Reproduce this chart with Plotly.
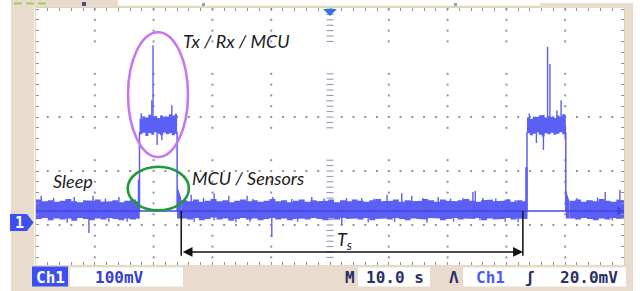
import plotly.graph_objects as go

# ---------------- values (time in s, voltage in mV) ----------------
baseline_mv = 26            # centre of the sleep-current trace

sleep_span = (-50.0, -32.4)
idle_span = (-25.3, 33.5)
tail_span = (40.7, 50.0)
band_step_s = 1.0
sleep_upper = [47, 44, 46, 43, 45, 48, 44, 42, 46, 45, 47, 43, 44, 46, 42, 45, 47, 44]
sleep_lower = [11, 13, 9, 12, 10, 12, 8, 13, 11, 9, 12, 10, 13, 11, 9, 12, 10, 12]
idle_upper = [46, 44, 47, 43, 45, 48, 44, 46, 42, 45,
              47, 44, 46, 43, 45, 48, 44, 46, 42, 45,
              47, 43, 46, 44, 45, 47, 42, 46, 44, 47,
              45, 43, 46, 48, 44, 45, 47, 43, 46, 44,
              45, 48, 46, 43, 47, 45, 44, 46, 48, 45,
              43, 46, 47, 44, 45, 47, 43, 46, 44]
idle_lower = [12, 10, 13, 9, 11, 14, 10, 12, 8, 11,
              13, 10, 12, 9, 11, 13, 10, 12, 9, 11,
              12, 10, 13, 11, 9, 12, 10, 13, 11, 12,
              10, 13, 9, 11, 12, 10, 13, 11, 9, 12,
              11, 10, 13, 12, 9, 11, 13, 10, 12, 11,
              13, 9, 12, 10, 11, 13, 10, 12, 11]
tail_upper = [45, 47, 43, 46, 44, 48, 45, 43, 47, 46]
tail_lower = [12, 10, 13, 11, 9, 12, 10, 13, 11, 12]

burst1_span = (-32.4, -26.0)
burst2_span = (33.5, 40.1)
burst_step_s = 0.5
burst_center_mv = 185
burst1_upper = [197, 201, 199, 204, 200, 202, 198, 203, 200, 201, 205, 203, 206]
burst1_lower = [168, 171, 165, 170, 167, 172, 169, 166, 171, 168, 170, 166, 169]
burst2_upper = [199, 197, 201, 200, 203, 204, 199, 202, 200, 198, 203, 201, 205, 203]
burst2_lower = [170, 166, 169, 172, 167, 164, 170, 168, 171, 167, 169, 172, 168, 170]

spike_up_t = [-49.1, -47.0, -43.5, -40.3, -38.2, -35.9, -33.7, -23.6, -21.5, -19.7, -17.2, -14.1,
              -13.1, -9.7, -6.5, -3.1, -1.0, 2.8, 5.4, 7.5, 9.7, 12.2, 13.9, 15.8, 18.4, 20.5,
              22.6, 24.3, 24.7, 26.0, 28.2, 30.3, 31.5, 42.0, 43.7, 45.5, 46.8, 49.3]
spike_up_v = [54, 50, 52, 54, 49, 52, 50, 56, 50, 59, 54, 54,
              48, 52, 48, 52, 49, 50, 50, 49, 56, 59, 54, 50, 52, 49,
              50, 61, 63, 50, 49, 48, 46, 50, 46, 51, 61, 65]
spike_dn_t = [-47.8, -44.7, -41.0, -37.6, -34.5, -23.1, -19.7, -16.0, -13.6, -9.9, -5.5, 2.0,
              6.5, 11.0, 16.5, 21.0, 25.5, 29.8, 32.0, 44.2, 48.0]
spike_dn_v = [9, 4, -15, 6, 6, 6, 9, 5, 6, -22, 6, 0,
              5, 6, 4, 6, 9, 6, 5, 11, 9]

burst_spike_t = [-32.1, -30.3, -30.1, -26.9, -29.4, -28.6,
                 33.9, 37.0, 37.4, 38.6, 39.3, 35.1, 36.3, 40.0]
burst_spike_v = [207, 231, 333, 222, 148, 157,
                 207, 330, 298, 212, 231, 152, 139, 159]

# MCU / sensor shoulders around each burst: start, end, level at start, level at end
shoulder_t0 = [-32.7, -26.0, 33.2, 40.1]
shoulder_t1 = [-32.4, -25.3, 33.6, 40.7]
shoulder_v0 = [84, 72, 107, 65]
shoulder_v1 = [84, 50, 107, 45]
edge_t = [-32.4, -26.0, 33.5, 40.1]
edge_top = [172, 172, 172, 172]

ts_start, ts_end = -25.3, 32.8
ts_level = -50
marker_low = -57

# ---------------- styling ----------------
TRACE = '#5b5ff3'
TRACE_DARK = '#4245e4'
GRID = '#8e8eb4'
BEIGE = '#eadccd'
Y_TOP, Y_BOT = 401.9, -74.1   # screen spans 100 mV per 54 px


def PX(x):
    return (x - 36) / 588.0


def PY(y):
    return (265 - y) / 257.0


def band_polygon(span, step, upper, lower):
    n = len(upper)
    edges = [span[0] + i * step for i in range(n)] + [span[1]]
    xs, ys = [], []
    for i in range(n):
        xs += [edges[i], edges[i + 1]]
        ys += [upper[i], upper[i]]
    for i in reversed(range(n)):
        xs += [edges[i + 1], edges[i]]
        ys += [lower[i], lower[i]]
    xs.append(xs[0]); ys.append(ys[0])
    return xs, ys


fig = go.Figure()

# graticule dots
col_t = [-40, -30, -20, -10, 10, 20, 30, 40]
dot_mv = [v for v in range(-60, 401, 20) if v not in (140, 160, 300, 320)]
gx, gy = [], []
for t in col_t:
    for v in dot_mv:
        gx.append(t); gy.append(v)
for v in (0, 100, 200):
    for k in range(-24, 25):
        t = 2 * k
        if t % 10 != 0:
            gx.append(t); gy.append(v)
fig.add_trace(go.Scatter(x=gx, y=gy, mode='markers', hoverinfo='skip',
                         marker=dict(symbol='square', size=2, color=GRID)))
# centre axis
cy = [v for v in dot_mv] + [v + 10 for v in dot_mv if v + 10 < 395 and v + 10 not in (130, 170, 290, 310, 330)]
fig.add_trace(go.Scatter(x=[0] * len(cy), y=cy, mode='markers', hoverinfo='skip',
                         marker=dict(symbol='line-ew', size=5, line=dict(width=1, color=GRID))))

# baseline noise bands
for span, up, lo in [(sleep_span, sleep_upper, sleep_lower),
                     (idle_span, idle_upper, idle_lower),
                     (tail_span, tail_upper, tail_lower)]:
    xs, ys = band_polygon(span, band_step_s, up, lo)
    fig.add_trace(go.Scatter(x=xs, y=ys, mode='lines', fill='toself', fillcolor=TRACE,
                             line=dict(width=0, color=TRACE), hoverinfo='skip'))

# bursts
for span, up, lo in [(burst1_span, burst1_upper, burst1_lower),
                     (burst2_span, burst2_upper, burst2_lower)]:
    xs, ys = band_polygon(span, burst_step_s, up, lo)
    fig.add_trace(go.Scatter(x=xs, y=ys, mode='lines', fill='toself', fillcolor=TRACE,
                             line=dict(width=0, color=TRACE), hoverinfo='skip'))

# shoulders
for t0, t1, v0, v1 in zip(shoulder_t0, shoulder_t1, shoulder_v0, shoulder_v1):
    fig.add_trace(go.Scatter(x=[t0, t0, t1, t1, t0], y=[baseline_mv - 14, v0, v1, baseline_mv - 14, baseline_mv - 14],
                             mode='lines', fill='toself', fillcolor=TRACE,
                             line=dict(width=0, color=TRACE), hoverinfo='skip'))

# edges of bursts
ex, ey = [], []
for t, top in zip(edge_t, edge_top):
    ex += [t, t, None]; ey += [baseline_mv, top, None]
fig.add_trace(go.Scatter(x=ex, y=ey, mode='lines', line=dict(width=1.5, color=TRACE), hoverinfo='skip'))

# spikes
sx, sy = [], []
for t, v in zip(spike_up_t, spike_up_v):
    sx += [t, t, None]; sy += [baseline_mv, v, None]
for t, v in zip(spike_dn_t, spike_dn_v):
    sx += [t, t, None]; sy += [baseline_mv, v, None]
for t, v in zip(burst_spike_t, burst_spike_v):
    sx += [t, t, None]; sy += [burst_center_mv, v, None]
fig.add_trace(go.Scatter(x=sx, y=sy, mode='lines', line=dict(width=1.4, color=TRACE), hoverinfo='skip'))

# centre line of the trace
fig.add_trace(go.Scatter(x=[sleep_span[0], tail_span[1]], y=[baseline_mv, baseline_mv], mode='lines',
                         line=dict(width=1.4, color=TRACE_DARK), hoverinfo='skip'))
fig.add_trace(go.Scatter(x=[49.2], y=[baseline_mv], mode='markers', hoverinfo='skip',
                         marker=dict(symbol='triangle-right', size=8, color=TRACE_DARK)))

shapes = []
# ellipses
shapes.append(dict(type='circle', xref='x', yref='y', x0=-34.35, x1=-24.15, y0=126, y1=357,
                   line=dict(color='#c877f0', width=2.6)))
shapes.append(dict(type='circle', xref='x', yref='y', x0=-34.4, x1=-24.0, y0=27, y1=108,
                   line=dict(color='#1f9a35', width=2.6)))
# Ts marker lines
for t in (ts_start, ts_end):
    shapes.append(dict(type='line', xref='x', yref='y', x0=t, x1=t, y0=baseline_mv, y1=marker_low,
                       line=dict(color='#1a1a1a', width=1.6)))

# beige frame
def rect(x0, y0, x1, y1, color, lw=0, lc=None):
    return dict(type='rect', xref='paper', yref='paper', x0=PX(x0), x1=PX(x1), y0=PY(y1), y1=PY(y0),
                fillcolor=color, line=dict(width=lw, color=lc or color), layer='above')

shapes += [rect(11, 0, 34, 291, BEIGE), rect(11, 265.5, 633, 291, BEIGE), rect(625, 3, 633, 291, BEIGE),
           rect(11, 0, 118, 7, BEIGE), rect(540, 3, 633, 8, BEIGE)]
shapes.append(dict(type='line', xref='paper', yref='paper', x0=PX(118), x1=PX(540), y0=PY(6.5), y1=PY(6.5),
                   line=dict(color='#e4dab8', width=1.5), layer='above'))
for a in (14, 26, 38):
    shapes.append(rect(a, 2.5, a + 8, 4.5, '#9fcf5a'))
shapes.append(rect(82, 2, 86, 6, '#4a4e8a'))
shapes.append(rect(202, 3, 205, 6, '#9a9ab0'))
shapes.append(rect(454, 3, 457, 6, '#9a9ab0'))
# status bar boxes
shapes += [rect(32, 266.5, 68, 286.5, '#3d4ff0'), rect(70, 267.5, 183, 286.5, 'white'),
           rect(358, 267.5, 430, 286.5, 'white'), rect(463, 267.5, 626, 286.5, 'white')]
# channel-1 ground marker and trigger marker
shapes.append(dict(type='path', xref='paper', yref='paper', layer='above',
                   path=f"M {PX(10)},{PY(214)} L {PX(27)},{PY(214)} L {PX(33.5)},{PY(222.5)} "
                        f"L {PX(27)},{PY(231)} L {PX(10)},{PY(231)} Z",
                   fillcolor='#3d4ff0', line=dict(width=0)))
shapes.append(dict(type='path', xref='paper', yref='paper', layer='above',
                   path=f"M {PX(323)},{PY(9)} L {PX(337)},{PY(9)} L {PX(330)},{PY(16)} Z",
                   fillcolor='#2f72f0', line=dict(width=0)))

LABEL_FONT = dict(family='Lato, Open Sans, sans-serif', size=18, color='#1c1c1c')
MONO = dict(family='DejaVu Sans Mono, monospace', size=16, weight='bold')


def ptext(text, x, y, font, xanchor='left'):
    return dict(text=text, xref='paper', yref='paper', x=PX(x), y=PY(y), xanchor=xanchor,
                yanchor='middle', showarrow=False, font=font)

annotations = [
    ptext('<i>Tx / Rx / MCU</i>', 181, 41, LABEL_FONT),
    ptext('<i>Sleep</i>', 51, 181, LABEL_FONT),
    ptext('<i>MCU / Sensors</i>', 190, 178, LABEL_FONT),
    ptext('<i>T<sub>s</sub></i>', 335, 240, LABEL_FONT),
    ptext('1', 19, 222.5, dict(family='DejaVu Sans Mono', size=15, weight='bold', color='white'), 'center'),
    ptext('Ch1', 50, 277, dict(MONO, color='white'), 'center'),
    ptext('100mV', 119, 277, dict(MONO, color='#3540d0'), 'center'),
    ptext('M', 350, 277, dict(MONO, color='#2a2f66'), 'center'),
    ptext('10.0 s', 395, 277, dict(MONO, color='#2a2f66'), 'center'),
    ptext('Λ', 454, 277, dict(MONO, color='#2a2f66'), 'center'),
    ptext('Ch1', 490, 277, dict(MONO, color='#4a5cf0'), 'center'),
    ptext('ʃ', 530, 277, dict(MONO, color='#2a2f66'), 'center'),
    ptext('20.0mV', 589, 277, dict(MONO, color='#2a2f66'), 'center'),
    dict(x=ts_end, y=ts_level, ax=ts_start, ay=ts_level, xref='x', yref='y', axref='x', ayref='y',
         text='', showarrow=True, arrowhead=2, startarrowhead=2, arrowside='end+start',
         arrowsize=1.3, startarrowsize=1.3, arrowwidth=1.5, arrowcolor='#111111'),
]

fig.update_layout(
    width=640, height=291, autosize=False,
    margin=dict(l=36, r=16, t=8, b=26, pad=0),
    paper_bgcolor='white', plot_bgcolor='white', showlegend=False,
    xaxis=dict(range=[-50, 50], showgrid=False, zeroline=False, showticklabels=False,
               ticks='inside', ticklen=3, tickwidth=1, tickcolor=GRID, tick0=-50, dtick=2,
               showline=True, linecolor='#dcd6b0', linewidth=1, mirror='ticks', fixedrange=True),
    yaxis=dict(range=[Y_BOT, Y_TOP], showgrid=False, zeroline=False, showticklabels=False,
               ticks='inside', ticklen=3, tickwidth=1, tickcolor=GRID, tick0=0, dtick=20,
               showline=True, linecolor='#dcd6b0', linewidth=1, mirror='ticks', fixedrange=True),
    shapes=shapes, annotations=annotations,
)

fig.write_html('out.html', config={'displayModeBar': False},
               post_script="document.body.style.margin='0px';document.body.style.overflow='hidden';")
